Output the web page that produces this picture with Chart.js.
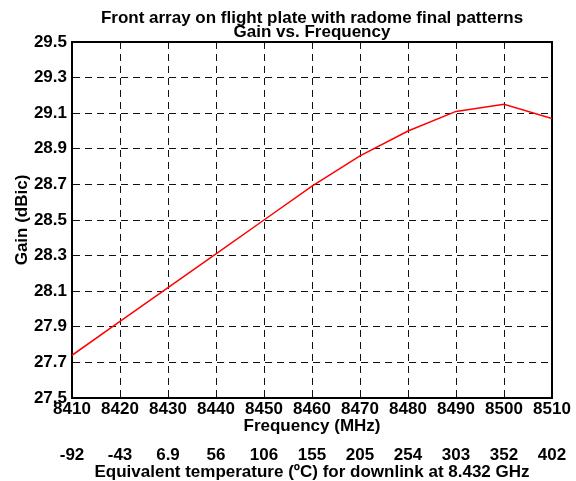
<!DOCTYPE html>
<html>
<head>
<meta charset="utf-8">
<script src="https://cdn.jsdelivr.net/npm/chart.js@4/dist/chart.umd.min.js"></script>
<style>
html,body{margin:0;padding:0;background:#fff;}
#wrap{width:576px;height:481px;position:relative;}
</style>
</head>
<body>
<div id="wrap"><canvas id="c" width="576" height="481"></canvas></div>
<script>
const frequencies = [8410, 8420, 8430, 8440, 8450, 8460, 8470, 8480, 8490, 8500, 8510];
const gainDBic = [27.74, 27.93, 28.12, 28.31, 28.50, 28.69, 28.86, 29.00, 29.11, 29.15, 29.07];
const temperatureLabels = ['-92', '-43', '6.9', '56', '106', '155', '205', '254', '303', '352', '402'];
const yTickValues = [27.5, 27.7, 27.9, 28.1, 28.3, 28.5, 28.7, 28.9, 29.1, 29.3, 29.5];

const FONT = {family: '"Liberation Sans", Arial, sans-serif', size: 17, weight: 'bold'};
const GRID = {color: '#111', lineWidth: 1, drawTicks: false};
const BORDER = {display: true, color: '#000', width: 2, dash: [7, 5]};

new Chart(document.getElementById('c'), {
  type: 'line',
  data: {
    datasets: [{
      data: frequencies.map((f, i) => ({x: f, y: gainDBic[i]})),
      borderColor: '#ff0000',
      borderWidth: 1.5,
      pointRadius: 0,
      tension: 0,
      fill: false
    }]
  },
  options: {
    responsive: false,
    animation: false,
    layout: {padding: {left: 8, right: 24, top: 0, bottom: 0}},
    plugins: {
      legend: {display: false},
      tooltip: {enabled: false},
      title: {
        display: true,
        fullSize: false,
        text: ['Front array on flight plate with radome final patterns', 'Gain vs. Frequency'],
        color: '#000',
        font: {family: FONT.family, size: 17, weight: 'bold', lineHeight: 14 / 17},
        padding: {top: 11, bottom: 3}
      }
    },
    scales: {
      x: {
        type: 'linear', position: 'bottom',
        min: frequencies[0], max: frequencies[frequencies.length - 1],
        afterBuildTicks: s => { s.ticks = frequencies.map(v => ({value: v})); },
        afterFit: s => { s.height = 40; },
        ticks: {color: '#000', font: FONT, padding: 1, maxRotation: 0, autoSkip: false,
                callback: v => String(v)},
        grid: GRID,
        border: BORDER,
        title: {display: true, text: 'Frequency (MHz)', color: '#000', font: FONT, padding: {top: 0, bottom: 1}}
      },
      x2: {
        type: 'linear', position: 'bottom',
        min: frequencies[0], max: frequencies[frequencies.length - 1],
        afterBuildTicks: s => { s.ticks = frequencies.map(v => ({value: v})); },
        afterFit: s => { s.height = 43; },
        ticks: {color: '#000', font: FONT, padding: 7, maxRotation: 0, autoSkip: false,
                callback: (v, i) => temperatureLabels[i]},
        grid: {display: false, drawTicks: false},
        border: {display: false},
        title: {display: true, text: 'Equivalent temperature (ºC) for downlink at 8.432 GHz', color: '#000', font: FONT, padding: {top: 0, bottom: -2}}
      },
      xTop: {
        type: 'linear', position: 'top',
        min: frequencies[0], max: frequencies[frequencies.length - 1],
        afterFit: s => { s.height = 0; },
        ticks: {display: false},
        grid: {display: false, drawTicks: false},
        border: {display: true, color: '#000', width: 2}
      },
      y: {
        type: 'linear', position: 'left',
        min: yTickValues[0], max: yTickValues[yTickValues.length - 1],
        afterBuildTicks: s => { s.ticks = yTickValues.map(v => ({value: v})); },
        afterFit: s => { s.width = 64; },
        ticks: {color: '#000', font: FONT, padding: 5, autoSkip: false,
                callback: v => Number(v).toFixed(1)},
        grid: GRID,
        border: BORDER,
        title: {display: true, text: 'Gain (dBic)', color: '#000', font: FONT, padding: {top: 4, bottom: 0}}
      },
      yRight: {
        type: 'linear', position: 'right',
        min: yTickValues[0], max: yTickValues[yTickValues.length - 1],
        afterFit: s => { s.width = 0; },
        ticks: {display: false},
        grid: {display: false, drawTicks: false},
        border: {display: true, color: '#000', width: 2}
      }
    }
  }
});
</script>
</body>
</html>
